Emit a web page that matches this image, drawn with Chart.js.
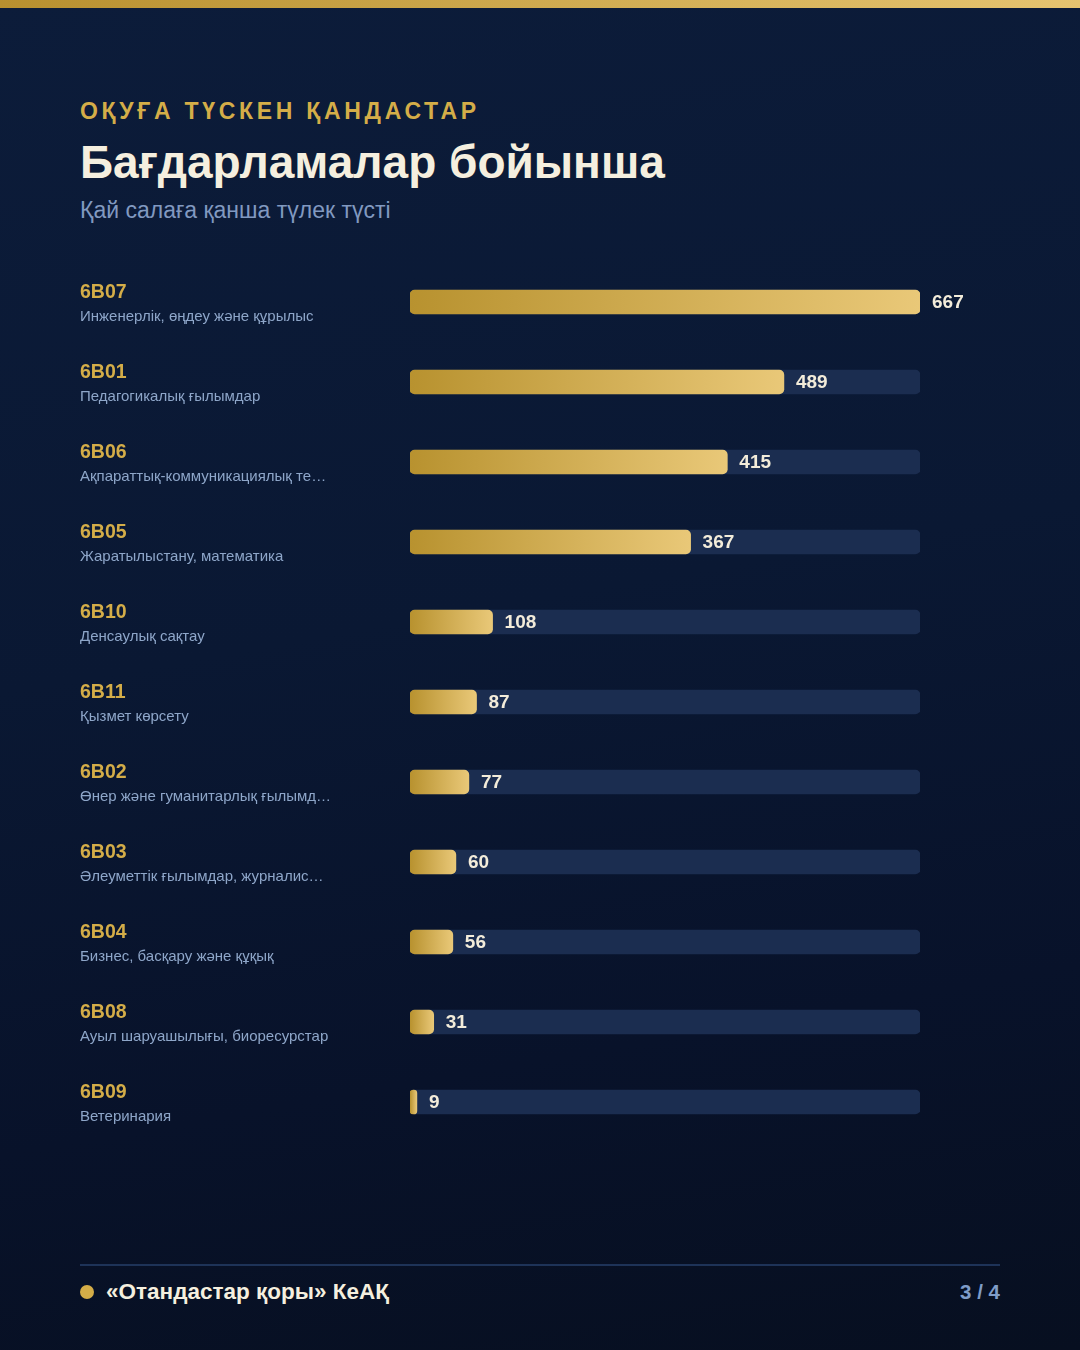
<!DOCTYPE html>
<html>
<head>
<meta charset="utf-8">
<script src="https://cdn.jsdelivr.net/npm/chart.js@4/dist/chart.umd.min.js"></script>
<style>
  html, body { margin:0; padding:0; }
  body { width:1080px; height:1350px; overflow:hidden; position:relative;
    background: linear-gradient(170deg, #0c1c3a 0%, #0a1833 45%, #08122a 75%, #070f20 100%);
    font-family: "Liberation Sans", Arial, sans-serif; }
  .topbar { position:absolute; left:0; top:0; width:1080px; height:8px;
    background: linear-gradient(90deg, #b8902f, #e6c470); }
  .kicker { position:absolute; left:80px; top:97px; font-size:23px; font-weight:700;
    letter-spacing:3.7px; color:#d4ad48; line-height:28px; white-space:nowrap; }
  .title { position:absolute; left:80px; top:136px; font-size:46px; font-weight:700;
    color:#f5efdf; line-height:52px; white-space:nowrap; }
  .subtitle { position:absolute; left:80px; top:196px; font-size:23px; color:#8199c0;
    line-height:28px; white-space:nowrap; }
  .chartbox { position:absolute; left:0; top:262px; width:1080px; height:880px; }
  .rule { position:absolute; left:80px; top:1264px; width:920px; height:2px; background:#1e3358; }
  .dot { position:absolute; left:80px; top:1285px; width:14px; height:14px; border-radius:50%; background:#d4ad48; }
  .org { position:absolute; left:106px; top:1278px; font-size:22.5px; font-weight:700; color:#f5efdf; line-height:28px; white-space:nowrap; }
  .page { position:absolute; right:80px; top:1279px; font-size:20.5px; font-weight:700; color:#7f9cc8; line-height:26px; }
</style>
</head>
<body>
<div class="topbar"></div>
<div class="kicker">ОҚУҒА ТҮСКЕН ҚАНДАСТАР</div>
<div class="title">Бағдарламалар бойынша</div>
<div class="subtitle">Қай салаға қанша түлек түсті</div>
<div class="chartbox"><canvas id="c"></canvas></div>
<div class="rule"></div>
<div class="dot"></div>
<div class="org">«Отандастар қоры» КеАҚ</div>
<div class="page">3 / 4</div>
<script>
const codes = ["6B07","6B01","6B06","6B05","6B10","6B11","6B02","6B03","6B04","6B08","6B09"];
const names = [
  "Инженерлік, өңдеу және құрылыс",
  "Педагогикалық ғылымдар",
  "Ақпараттық-коммуникациялық те…",
  "Жаратылыстану, математика",
  "Денсаулық сақтау",
  "Қызмет көрсету",
  "Өнер және гуманитарлық ғылымд…",
  "Әлеуметтік ғылымдар, журналис…",
  "Бизнес, басқару және құқық",
  "Ауыл шаруашылығы, биоресурстар",
  "Ветеринария"
];
const values = [667, 489, 415, 367, 108, 87, 77, 60, 56, 31, 9];
const maxValue = Math.max(...values);

const labelPlugin = {
  id: 'rowLabels',
  afterDatasetsDraw(chart) {
    const ctx = chart.ctx;
    const y = chart.scales.y, x = chart.scales.x;
    ctx.save();
    codes.forEach((code, i) => {
      const cy = y.getPixelForValue(i);
      ctx.textBaseline = 'middle';
      ctx.textAlign = 'left';
      ctx.fillStyle = '#d4ad48';
      ctx.font = '700 19.5px "Liberation Sans", Arial, sans-serif';
      ctx.fillText(code, 80, cy - 9);
      ctx.fillStyle = '#8ea6c9';
      ctx.font = '400 15px "Liberation Sans", Arial, sans-serif';
      ctx.fillText(names[i], 80, cy + 15);
      const xe = x.getPixelForValue(values[i]);
      ctx.fillStyle = '#f3ecda';
      ctx.font = '700 19px "Liberation Sans", Arial, sans-serif';
      ctx.fillText(String(values[i]), xe + 12, cy + 1);
    });
    ctx.restore();
  }
};

new Chart(document.getElementById('c'), {
  type: 'bar',
  data: {
    labels: codes,
    datasets: [
      {
        data: values,
        backgroundColor(ctx) {
          const chart = ctx.chart;
          const xs = chart.scales.x;
          if (!xs || ctx.dataIndex === undefined) return '#d0aa4c';
          const x0 = xs.getPixelForValue(0);
          const x1 = xs.getPixelForValue(values[ctx.dataIndex]);
          if (!isFinite(x0) || !isFinite(x1)) return '#d0aa4c';
          const g = chart.ctx.createLinearGradient(x0, 0, Math.max(x1, x0 + 1), 0);
          g.addColorStop(0, '#b8922f');
          g.addColorStop(1, '#e9c878');
          return g;
        },
        borderRadius: 5,
        borderSkipped: false,
        barThickness: 24,
        grouped: false,
        order: 0
      },
      {
        data: values.map(() => maxValue),
        backgroundColor: '#1b2d50',
        borderRadius: 5,
        borderSkipped: false,
        barThickness: 24,
        grouped: false,
        order: 1
      }
    ]
  },
  options: {
    indexAxis: 'y',
    responsive: true,
    maintainAspectRatio: false,
    animation: false,
    events: [],
    layout: { padding: { left: 410, right: 160, top: 0, bottom: 0 } },
    plugins: { legend: { display: false }, tooltip: { enabled: false } },
    scales: {
      x: { display: false, min: 0, max: maxValue },
      y: { display: false }
    }
  },
  plugins: [labelPlugin]
});
</script>
</body>
</html>
